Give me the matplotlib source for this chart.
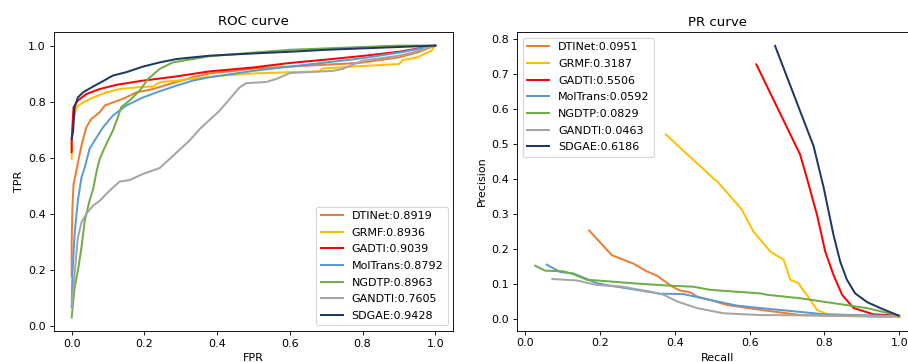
import matplotlib
matplotlib.use("Agg")
import matplotlib.pyplot as plt

# model names and colours
models = ["DTINet", "GRMF", "GADTI", "MolTrans", "NGDTP", "GANDTI", "SDGAE"]
colors = ["#ED7D31", "#FFC000", "#FF0000", "#5B9BD5", "#70AD47", "#A5A5A5", "#203864"]
roc_auc = ["0.8919", "0.8936", "0.9039", "0.8792", "0.8963", "0.7605", "0.9428"]
pr_auc = ["0.0951", "0.3187", "0.5506", "0.0592", "0.0829", "0.0463", "0.6186"]

# ROC curves
dtinet_fpr = [0.0, 0.0, 0.002, 0.005, 0.013, 0.022, 0.029, 0.04, 0.054, 0.077, 0.091, 0.113, 0.141, 0.178,
              0.224, 0.269, 0.333, 0.379, 0.45, 0.5, 0.6, 0.7, 0.79, 0.9, 0.95, 1.0]
dtinet_tpr = [0.178, 0.30, 0.42, 0.506, 0.554, 0.613, 0.655, 0.708, 0.738, 0.762, 0.786, 0.797, 0.81, 0.833,
              0.845, 0.863, 0.887, 0.901, 0.91, 0.918, 0.925, 0.932, 0.938, 0.958, 0.975, 1.0]

grmf_fpr = [0.0, 0.0, 0.004, 0.013, 0.031, 0.059, 0.095, 0.132, 0.178, 0.224, 0.242, 0.288, 0.352, 0.379,
            0.49, 0.60, 0.68, 0.69, 0.77, 0.90, 0.91, 0.95, 0.99, 1.0]
grmf_tpr = [0.596, 0.65, 0.732, 0.78, 0.797, 0.815, 0.833, 0.845, 0.851, 0.854, 0.869, 0.875, 0.885, 0.889,
            0.900, 0.905, 0.908, 0.918, 0.925, 0.934, 0.948, 0.958, 0.982, 1.0]

gadti_fpr = [0.0, 0.0, 0.005, 0.017, 0.04, 0.077, 0.123, 0.196, 0.288, 0.379, 0.5, 0.6, 0.7, 0.8, 0.9, 1.0]
gadti_tpr = [0.62, 0.66, 0.78, 0.804, 0.827, 0.845, 0.86, 0.875, 0.89, 0.908, 0.922, 0.938, 0.95, 0.963,
             0.978, 1.0]

moltrans_fpr = [0.0, 0.002, 0.008, 0.017, 0.027, 0.036, 0.049, 0.063, 0.086, 0.113, 0.15, 0.196, 0.242,
                0.288, 0.333, 0.379, 0.5, 0.6, 0.7, 0.8, 0.9, 1.0]
moltrans_tpr = [0.066, 0.185, 0.328, 0.446, 0.53, 0.565, 0.631, 0.661, 0.708, 0.75, 0.786, 0.815, 0.837,
                0.857, 0.875, 0.887, 0.91, 0.925, 0.94, 0.955, 0.975, 1.0]

ngdtp_fpr = [0.0, 0.008, 0.017, 0.027, 0.036, 0.049, 0.059, 0.068, 0.077, 0.091, 0.113, 0.127, 0.136, 0.159,
             0.187, 0.21, 0.242, 0.278, 0.333, 0.379, 0.5, 0.6, 0.7, 0.8, 0.9, 1.0]
ngdtp_tpr = [0.03, 0.137, 0.196, 0.28, 0.375, 0.446, 0.488, 0.548, 0.595, 0.637, 0.696, 0.744, 0.78, 0.804,
             0.839, 0.881, 0.917, 0.94, 0.952, 0.962, 0.975, 0.985, 0.99, 0.995, 1.0, 1.0]

gandti_fpr = [0.0, 0.008, 0.017, 0.027, 0.04, 0.059, 0.077, 0.104, 0.132, 0.159, 0.196, 0.242, 0.269, 0.324,
              0.352, 0.407, 0.462, 0.48, 0.535, 0.563, 0.60, 0.72, 0.745, 0.80, 0.90, 0.94, 1.0]
gandti_tpr = [0.066, 0.185, 0.315, 0.369, 0.399, 0.429, 0.446, 0.482, 0.515, 0.52, 0.542, 0.563, 0.595, 0.661,
              0.702, 0.768, 0.851, 0.866, 0.87, 0.881, 0.902, 0.91, 0.917, 0.946, 0.964, 0.976, 1.0]

sdgae_fpr = [0.0, 0.004, 0.008, 0.017, 0.031, 0.059, 0.086, 0.113, 0.15, 0.196, 0.242, 0.288, 0.379, 0.5,
             0.6, 0.7, 0.8, 0.9, 1.0]
sdgae_tpr = [0.667, 0.696, 0.78, 0.815, 0.833, 0.854, 0.873, 0.893, 0.905, 0.925, 0.94, 0.952, 0.964, 0.972,
             0.978, 0.985, 0.99, 0.995, 1.0]

# PR curves
dtinet_rec = [0.171, 0.232, 0.29, 0.325, 0.352, 0.392, 0.414, 0.441, 0.459, 0.495, 0.539, 0.628, 0.735, 1.0]
dtinet_prec = [0.253, 0.182, 0.158, 0.136, 0.124, 0.093, 0.081, 0.076, 0.064, 0.054, 0.04, 0.026, 0.011, 0.005]

grmf_rec = [0.376, 0.434, 0.468, 0.506, 0.513, 0.579, 0.61, 0.655, 0.691, 0.709, 0.731, 0.739, 0.753, 0.78,
            0.807, 1.0]
grmf_prec = [0.528, 0.47, 0.437, 0.399, 0.394, 0.313, 0.25, 0.193, 0.169, 0.112, 0.102, 0.088, 0.069, 0.026,
             0.013, 0.005]

gadti_rec = [0.618, 0.735, 0.753, 0.78, 0.802, 0.824, 0.847, 0.878, 0.931, 0.998]
gadti_prec = [0.728, 0.47, 0.403, 0.298, 0.193, 0.126, 0.069, 0.031, 0.013, 0.0095]

moltrans_rec = [0.058, 0.094, 0.129, 0.192, 0.227, 0.316, 0.361, 0.423, 0.495, 0.566, 0.628, 0.735, 0.8, 1.0]
moltrans_prec = [0.155, 0.134, 0.13, 0.102, 0.095, 0.08, 0.072, 0.071, 0.054, 0.038, 0.031, 0.02, 0.013, 0.008]

ngdtp_rec = [0.027, 0.053, 0.102, 0.129, 0.165, 0.227, 0.299, 0.388, 0.45, 0.495, 0.628, 0.646, 0.735, 0.824,
             0.913, 0.998]
ngdtp_prec = [0.152, 0.138, 0.136, 0.128, 0.112, 0.107, 0.101, 0.095, 0.092, 0.083, 0.073, 0.069, 0.059, 0.045,
              0.031, 0.0095]

gandti_rec = [0.073, 0.138, 0.192, 0.254, 0.334, 0.37, 0.406, 0.459, 0.53, 0.628, 1.0]
gandti_prec = [0.114, 0.11, 0.097, 0.093, 0.078, 0.069, 0.05, 0.031, 0.016, 0.011, 0.008]

sdgae_rec = [0.668, 0.771, 0.798, 0.824, 0.842, 0.86, 0.882, 0.914, 0.949, 0.998]
sdgae_prec = [0.781, 0.494, 0.375, 0.241, 0.164, 0.112, 0.073, 0.048, 0.031, 0.0095]

roc_x = [dtinet_fpr, grmf_fpr, gadti_fpr, moltrans_fpr, ngdtp_fpr, gandti_fpr, sdgae_fpr]
roc_y = [dtinet_tpr, grmf_tpr, gadti_tpr, moltrans_tpr, ngdtp_tpr, gandti_tpr, sdgae_tpr]
pr_x = [dtinet_rec, grmf_rec, gadti_rec, moltrans_rec, ngdtp_rec, gandti_rec, sdgae_rec]
pr_y = [dtinet_prec, grmf_prec, gadti_prec, moltrans_prec, ngdtp_prec, gandti_prec, sdgae_prec]

fig = plt.figure(figsize=(908 / 80, 362 / 80), dpi=80)
ax1 = fig.add_axes([53.5 / 908, 31 / 362, 400 / 908, 299 / 362])
ax2 = fig.add_axes([517 / 908, 31.3 / 362, 400.5 / 908, 298.4 / 362])

for i in range(len(models)):
    ax1.plot(roc_x[i], roc_y[i], color=colors[i], lw=1.8, label=models[i] + ":" + roc_auc[i])
ax1.set_title("ROC curve")
ax1.set_xlabel("FPR")
ax1.set_ylabel("TPR")
ax1.legend(loc="lower right", labelspacing=0.6)

for i in range(len(models)):
    ax2.plot(pr_x[i], pr_y[i], color=colors[i], lw=1.8, label=models[i] + ":" + pr_auc[i])
ax2.set_title("PR curve")
ax2.set_xlabel("Recall")
ax2.set_ylabel("Precision")
ax2.legend(loc="upper left", labelspacing=0.6)

fig.savefig("out.png", dpi=80)
